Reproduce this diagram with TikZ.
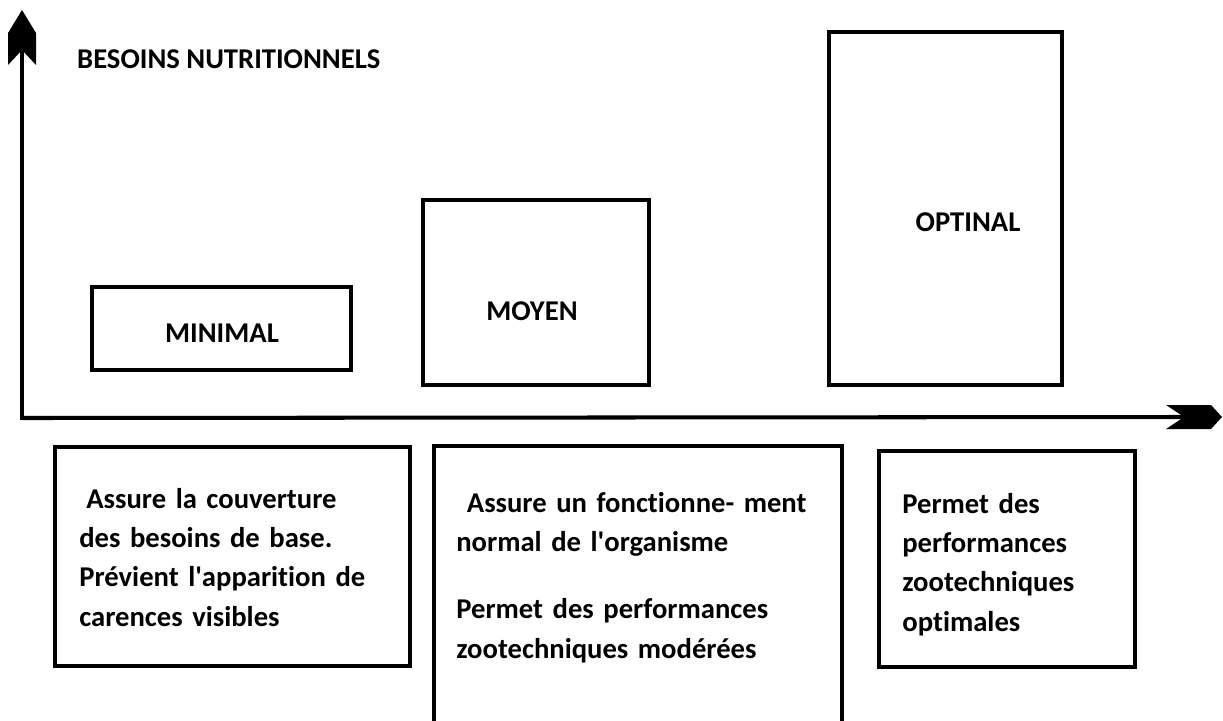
\documentclass[tikz,border=0pt]{standalone}
\usepackage{fontspec}
\setmainfont{Carlito}[Ligatures=NoCommon]
\newcommand{\besoinfont}{\fontsize{16.3pt}{22.4pt}\selectfont\bfseries}

\begin{document}
\begin{tikzpicture}[x=0.02cm, y=-0.02cm, font=\besoinfont,
        axe/.style={line width=2.3pt},
        niveau/.style={draw, rectangle, line width=2pt, inner sep=0pt},
        effet/.style={anchor=base west, align=left, inner sep=0pt, text width=#1}]
        \useasboundingbox (0,0) rectangle (1223,720);

        % Axes
        \coordinate (origine) at (22,418);
        \coordinate (haut) at (22,10);
        \coordinate (droite) at (1222,417);
        \draw[axe] ([yshift=-1.1pt]origine) -- (22,50);
        \fill (haut) -- ++(14,23) -- ++(0,32) -- ++(-14,-15) -- ++(-14,15) -- ++(0,-32) -- cycle;
        \draw[axe] (origine) -- (1185,417);
        \fill (droite) -- ++(-11,-12) -- ++(-45,0) -- ++(18,12) -- ++(-18,12) -- ++(45,0) -- cycle;
        \node[anchor=base west] (titre) at (71,68) {BESOINS NUTRITIONNELS};

        % Niveaux
        \node[niveau, minimum width=5.18cm, minimum height=1.66cm] (minimal) at (221.5,328.5) {};
        \node[anchor=base] (minimaltxt) at (222,342) {MINIMAL};

        \node[niveau, minimum width=4.52cm, minimum height=3.7cm] (moyen) at (536,292.5) {};
        \node[anchor=base] (moyentxt) at (532,320) {MOYEN};

        \node[niveau, minimum width=4.66cm, minimum height=7.06cm] (optimal) at (945.5,208.5) {};
        \node[anchor=base] (optimaltxt) at (968,231) {OPTINAL};

        % Effets
        \node[niveau, minimum width=7.1cm, minimum height=4.38cm] (effetmin) at (232.5,556.5) {};
        \node[effet=6.6cm] (effetmintxt) at (79,508) {\hspace{4pt}Assure la couverture\\ des besoins de base.\\ Prévient l\textquotesingle apparition de\\ carences visibles};

        \node[niveau, minimum width=8.16cm, minimum height=6.28cm] (effetmoy) at (638,603) {};
        \node[effet=7.7cm] (effetmoytxt) at (456,512) {\hspace{6pt}Assure un fonctionne- ment\\ normal de l\textquotesingle organisme\\[15.9pt] Permet des performances\\ zootechniques modérées};

        \node[niveau, minimum width=5.12cm, minimum height=4.32cm] (effetopt) at (1007,559) {};
        \node[effet=4.6cm] (effetopttxt) at (902,513) {Permet des\\ performances\\ zootechniques\\ optimales};

\end{tikzpicture}
\end{document}
